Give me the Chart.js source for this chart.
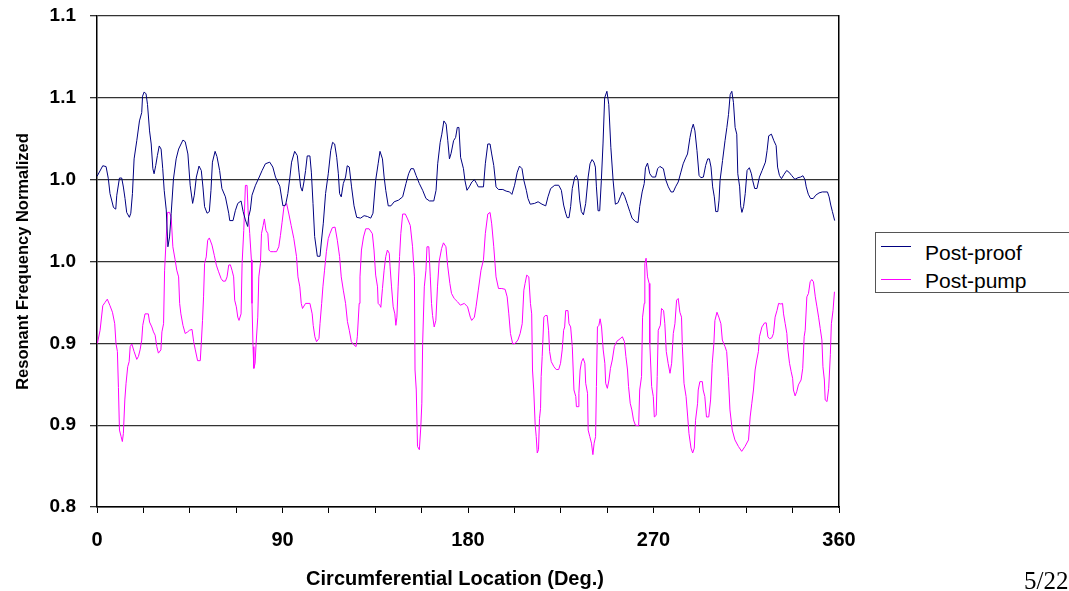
<!DOCTYPE html>
<html>
<head>
<meta charset="utf-8">
<script src="https://cdn.jsdelivr.net/npm/chart.js@4.4.1/dist/chart.umd.min.js"></script>
<style>
	body { margin: 0; background: #fff; }
	#wrap { position: relative; width: 1069px; height: 591px; overflow: hidden; }
	#chart { position: absolute; left: 0; top: 0; }
	#xTitle { position: absolute; left: 255px; width: 400px; top: 566px; text-align: center; line-height: 24px;
		font-family: "Liberation Sans", Arial, sans-serif; font-size: 20px; font-weight: bold; color: #000; white-space: nowrap; }
	#legend { position: absolute; left: 875px; top: 232px; width: 196px; height: 59px; border: 1px solid #555; background: #fff;
		font-family: "Liberation Sans", Arial, sans-serif; font-size: 21px; color: #000; }
	.legRow { position: absolute; left: 0; width: 100%; height: 24px; line-height: 24px; white-space: nowrap; }
	.legLine { position: absolute; left: 5px; width: 30px; height: 1px; }
	.legText { position: absolute; left: 49px; top: 0; }
	#page { position: absolute; left: 1024px; top: 568px; line-height: 25px; font-family: "Liberation Serif", "Times New Roman", serif; font-size: 25px; color: #000; }
</style>
</head>
<body>
<div id="wrap">
	<canvas id="chart" width="1069" height="591"></canvas>
	<div id="xTitle">Circumferential Location (Deg.)</div>
	<div id="legend"></div>
	<div id="page">5/22</div>
</div>
<script>
// -------------------- Data -------------------- //

const seriesNames = ["Post-proof", "Post-pump"];
const seriesColors = ["#000080", "#ff00ff"];

const yTickLabels = ["0.8", "0.9", "0.9", "1.0", "1.0", "1.1", "1.1"];	// values 0.80 .. 1.10 step 0.05
const xTickLabels = ["0", "90", "180", "270", "360"];

// Post-proof : location (deg) / normalized frequency
const proofDeg = [
	0, 2.8, 4.4, 5.5, 6.3, 8.0, 9.1, 9.6, 10.9, 12.0, 12.8, 13.6, 14.4, 15.7, 16.4, 17.2, 18.0, 19.3, 20.6, 21.7,
	22.1, 22.9, 23.8, 24.5, 25.5, 26.3, 27.1, 27.7, 28.5, 29.3, 30.2, 31.1, 31.9, 32.6, 33.6, 34.4, 35.2, 36.0, 37.1, 38.4,
	39.6, 41.7, 42.8, 44.1, 45.2, 46.4, 47.2, 48.2, 49.5, 50.6, 51.4, 52.2, 53.4, 54.5, 55.3, 56.0, 57.3, 58.2, 59.5, 60.6,
	62.3, 63.9, 64.4, 66.0, 67.1, 68.3, 69.9, 70.9, 72.0, 73.1, 73.6, 74.4, 75.2, 76.9, 78.5, 80.1, 81.7, 83.8, 85.3, 86.6,
	88.7, 90.2, 91.5, 92.6, 93.6, 94.4, 95.9, 97.2, 98.0, 98.8, 99.6, 100.4, 101.2, 102.0, 103.3, 104.0, 104.8, 105.6, 106.9, 108.2,
	108.8, 109.8, 110.9, 112.2, 113.4, 114.3, 115.3, 116.3, 117.1, 117.7, 118.5, 119.5, 120.6, 121.4, 122.4, 123.5, 124.7, 126.0, 127.9, 129.6,
	131.2, 132.8, 133.9, 135.2, 136.4, 137.3, 138.5, 139.3, 140.1, 141.3, 142.6, 144.2, 146.3, 148.3, 149.9, 151.2, 152.3, 153.6, 154.8, 156.4,
	158.0, 159.6, 161.3, 163.4, 164.5, 165.3, 166.5, 167.3, 168.3, 169.4, 170.2, 171.0, 171.8, 173.0, 174.0, 174.8, 175.6, 176.4, 177.8, 178.5,
	179.5, 180.6, 181.9, 183.1, 184.2, 185.0, 187.5, 188.4, 189.6, 190.7, 191.5, 192.5, 193.6, 194.8, 196.9, 198.5, 200.2, 201.3, 202.6, 203.9,
	205.0, 206.2, 207.1, 208.3, 209.1, 210.2, 212.3, 214.0, 215.9, 217.7, 218.8, 220.1, 222.1, 224.0, 225.3, 226.4, 227.4, 228.1, 229.0, 229.8,
	230.6, 231.8, 232.6, 233.4, 234.2, 235.0, 236.0, 237.1, 238.3, 239.2, 240.2, 241.1, 241.8, 242.3, 243.1, 243.9, 244.7, 245.5, 246.3, 247.4,
	248.3, 249.3, 250.4, 251.5, 252.8, 253.9, 254.9, 256.0, 257.2, 258.5, 259.6, 261.2, 262.5, 263.3, 264.5, 265.5, 266.1, 267.1, 268.2, 269.4,
	271.0, 272.0, 273.1, 274.8, 275.9, 277.2, 278.5, 279.6, 280.7, 282.0, 283.3, 284.4, 285.6, 286.5, 287.7, 288.5, 289.3, 290.1, 291.1, 292.1,
	293.0, 294.2, 295.3, 296.3, 297.1, 297.9, 298.7, 299.5, 300.2, 301.2, 301.8, 302.3, 303.5, 304.7, 305.6, 306.4, 307.2, 308.0, 308.8, 309.6,
	310.4, 310.9, 311.8, 312.3, 312.9, 313.7, 314.5, 315.4, 316.5, 317.5, 318.1, 319.1, 320.2, 321.4, 322.7, 324.3, 325.1, 325.9, 327.2, 328.4,
	329.5, 330.2, 331.1, 332.1, 333.3, 334.6, 335.7, 337.0, 338.6, 340.1, 341.4, 342.5, 343.5, 344.1, 345.1, 346.2, 347.5, 348.7, 350.3, 351.9,
	354.4, 355.2, 356.0, 356.8, 357.9
];
const proofVal = [
	1.002, 1.0085, 1.008, 1.0006, 0.9915, 0.983, 0.982, 0.9905, 1.001, 1.001, 0.9955, 0.9885, 0.980, 0.977, 0.9795, 0.9915, 1.0127, 1.0238, 1.0359, 1.041,
	1.051, 1.0536, 1.0524, 1.046, 1.0298, 1.0218, 1.0067, 1.0036, 1.0087, 1.0147, 1.0206, 1.0187, 1.0067, 0.9935, 0.9815, 0.959, 0.965, 0.9795, 1.0004, 1.0127,
	1.0187, 1.0242, 1.0232, 1.0157, 0.9966, 0.9855, 0.9905, 1.0016, 1.0083, 1.0056, 0.9955, 0.9835, 0.9795, 0.9805, 0.9935, 1.0107, 1.0173, 1.0141, 1.0056, 0.9946,
	0.9895, 0.9795, 0.975, 0.975, 0.981, 0.9855, 0.987, 0.9805, 0.9754, 0.9714, 0.9775, 0.9815, 0.9905, 0.9966, 1.001, 1.0056, 1.0097, 1.0107, 1.0077, 1.0016,
	0.996, 0.984, 0.9845, 0.9915, 1.0016, 1.0107, 1.0173, 1.0147, 1.0046, 0.9956, 0.993, 0.9986, 1.0056, 1.0145, 1.0145, 1.0046, 0.9855, 0.9653, 0.9532, 0.9532,
	0.9613, 0.9734, 0.9915, 1.0036, 1.0177, 1.0228, 1.0218, 1.0137, 1.0036, 0.9915, 0.9895, 0.9976, 1.0016, 1.0085, 1.0077, 0.9956, 0.984, 0.977, 0.9765, 0.978,
	0.9775, 0.9765, 0.9795, 0.9996, 1.0097, 1.0173, 1.0127, 1.0016, 0.9935, 0.984, 0.984, 0.9865, 0.9875, 0.9895, 0.9976, 1.0036, 1.0067, 1.0067, 1.0026, 0.9976,
	0.9935, 0.9885, 0.987, 0.987, 0.9935, 1.0097, 1.0228, 1.0278, 1.0359, 1.0339, 1.0238, 1.0127, 1.0161, 1.0238, 1.0258, 1.0319, 1.0319, 1.0137, 1.0067, 0.9996,
	0.9935, 0.9956, 0.9986, 1.0, 0.9976, 0.9956, 0.9956, 1.0097, 1.0218, 1.0218, 1.0157, 1.0087, 0.9956, 0.994, 0.994, 0.993, 0.9925, 0.991, 0.9966, 1.0046,
	1.0083, 1.0067, 0.9996, 0.9935, 0.9885, 0.985, 0.9855, 0.9865, 0.985, 0.984, 0.9895, 0.9946, 0.9966, 0.9966, 0.9935, 0.9845, 0.9795, 0.9768, 0.9768, 0.9835,
	0.9946, 1.0016, 1.0026, 0.9996, 0.9875, 0.9805, 0.9785, 0.9855, 1.0016, 1.0097, 1.0123, 1.0107, 1.0077, 0.9956, 0.981, 0.981, 0.9996, 1.0218, 1.05, 1.054,
	1.046, 1.0198, 0.9996, 0.985, 0.9859, 0.9895, 0.9925, 0.9899, 0.9855, 0.9805, 0.9765, 0.9744, 0.9738, 0.9835, 0.9925, 0.9976, 1.0073, 1.0101, 1.0036, 1.0016,
	1.0016, 1.0067, 1.0081, 1.0067, 1.0, 0.9956, 0.9925, 0.9925, 0.9956, 0.9986, 1.0046, 1.0097, 1.0133, 1.0157, 1.0258, 1.0308, 1.0339, 1.0298, 1.0177, 1.0026,
	1.0012, 1.0016, 1.0087, 1.0127, 1.0127, 1.0077, 0.9956, 0.9895, 0.9805, 0.9805, 0.9875, 0.9996, 1.0117, 1.0238, 1.0319, 1.0399, 1.052, 1.054, 1.047, 1.0319,
	1.0278, 1.0036, 0.9956, 0.984, 0.98, 0.9835, 0.9915, 1.0056, 1.0073, 1.0036, 0.9996, 0.9946, 0.9946, 1.0016, 1.0056, 1.0107, 1.0177, 1.0268, 1.0278, 1.0238,
	1.0208, 1.0077, 1.0026, 1.0006, 1.0032, 1.0056, 1.0046, 1.0026, 1.0002, 1.0012, 1.0016, 1.0024, 1.0, 0.9956, 0.9911, 0.9885, 0.9885, 0.9905, 0.9919, 0.9925,
	0.9925, 0.9895, 0.9845, 0.9805, 0.975
];

// Post-pump : location (deg) / normalized frequency
const pumpDeg = [
	0.2, 1.5, 2.8, 3.9, 5.0, 6.3, 7.5, 8.6, 9.2, 9.9, 10.4, 10.9, 11.7, 12.3, 12.8, 13.5, 14.1, 14.9, 15.6, 16.1,
	16.9, 18.0, 19.3, 20.1, 20.9, 21.7, 22.2, 23.3, 24.9, 25.5, 26.6, 27.4, 28.2, 29.0, 29.8, 31.0, 31.5, 32.3, 32.8, 33.6,
	34.2, 35.2, 36.0, 36.8, 37.9, 38.7, 39.6, 40.1, 40.7, 41.7, 42.8, 44.0, 44.9, 46.1, 46.9, 47.7, 48.8, 50.1, 50.6, 51.2,
	51.7, 52.2, 53.0, 53.7, 54.5, 55.8, 56.9, 57.9, 59.0, 60.2, 61.1, 62.3, 63.1, 63.9, 64.7, 65.5, 66.3, 66.8, 67.6, 68.3,
	68.9, 69.9, 70.4, 71.2, 72.0, 72.8, 73.3, 74.1, 74.9, 75.2, 75.7, 76.1, 76.7, 77.2, 78.0, 78.5, 79.3, 79.8, 80.6, 81.2,
	82.0, 82.9, 83.4, 84.2, 85.8, 87.1, 88.2, 89.0, 89.8, 90.7, 92.0, 93.1, 94.2, 95.5, 96.8, 97.5, 98.4, 99.1, 99.7, 101.2,
	103.3, 104.4, 104.9, 105.7, 106.5, 107.7, 108.2, 109.0, 109.6, 110.4, 111.3, 112.2, 113.0, 114.2, 115.5, 116.6, 117.7, 118.5, 119.5, 120.6,
	121.5, 122.4, 123.4, 124.7, 125.7, 126.3, 127.2, 127.6, 128.3, 129.3, 130.4, 132.0, 133.6, 134.4, 135.2, 136.1, 136.4, 137.2, 137.7, 138.5,
	139.3, 140.1, 140.9, 141.8, 142.2, 142.9, 143.7, 144.5, 145.0, 145.5, 146.1, 146.8, 147.4, 148.3, 149.6, 150.7, 152.0, 153.1, 154.0, 154.3,
	154.9, 155.5, 156.4, 157.1, 157.6, 158.0, 158.8, 159.6, 160.1, 161.0, 161.7, 162.3, 162.8, 163.6, 164.4, 165.2, 166.0, 167.2, 168.1, 169.3,
	170.1, 171.2, 172.0, 173.3, 174.9, 176.3, 178.2, 179.8, 181.1, 181.8, 183.1, 183.9, 185.0, 186.3, 187.5, 188.4, 189.6, 190.7, 191.5, 192.5,
	193.1, 193.6, 194.8, 196.4, 198.0, 199.0, 199.8, 200.6, 201.7, 202.9, 204.2, 205.3, 206.3, 207.1, 207.7, 208.5, 209.5, 210.3, 210.9, 211.3,
	211.9, 212.6, 213.1, 213.6, 214.2, 214.7, 215.2, 215.5, 216.0, 216.8, 217.5, 218.4, 219.1, 219.6, 220.4, 221.7, 222.8, 224.0, 224.9, 225.7,
	226.4, 226.9, 227.4, 228.5, 229.0, 229.8, 230.6, 231.4, 232.3, 232.6, 233.4, 233.8, 234.4, 235.1, 235.9, 236.7, 237.1, 238.0, 238.3, 239.1,
	239.9, 240.6, 241.2, 241.9, 242.3, 242.8, 243.5, 244.1, 244.8, 245.6, 246.4, 246.8, 247.6, 248.4, 249.1, 250.0, 251.0, 252.2, 253.8, 254.9,
	255.9, 256.6, 257.4, 257.9, 258.7, 259.5, 260.3, 261.2, 262.8, 263.3, 264.2, 264.7, 265.5, 265.8, 266.4, 267.1, 267.9, 268.2, 269.1, 269.9,
	270.4, 271.3, 271.8, 272.3, 273.3, 273.9, 274.9, 275.5, 276.2, 277.1, 278.0, 278.8, 279.6, 280.4, 281.2, 282.0, 282.8, 283.6, 284.0, 284.8,
	285.8, 286.6, 287.2, 288.2, 289.0, 289.8, 290.4, 291.4, 291.7, 292.5, 293.7, 294.1, 294.9, 295.7, 296.8, 297.7, 298.5, 299.3, 299.8, 300.8,
	301.7, 302.7, 303.4, 304.7, 305.5, 306.3, 307.1, 308.2, 309.5, 311.2, 312.8, 314.4, 316.1, 316.9, 317.7, 318.5, 319.3, 320.1, 320.9, 321.4,
	322.6, 323.9, 324.7, 325.5, 326.3, 327.4, 328.2, 329.0, 329.9, 330.7, 331.8, 332.6, 333.1, 333.9, 334.7, 335.2, 336.0, 336.8, 337.5, 337.9,
	338.7, 339.5, 340.3, 341.6, 342.4, 343.1, 343.6, 344.4, 345.2, 346.0, 346.8, 347.6, 348.5, 349.3, 350.1, 350.9, 351.7, 352.2, 352.9, 353.3,
	354.2, 355.0, 355.8, 356.3, 357.1, 357.8
];
const pumpVal = [
	0.900, 0.908, 0.923, 0.925, 0.927, 0.923, 0.919, 0.912, 0.900, 0.895, 0.873, 0.847, 0.843, 0.840, 0.845, 0.8654, 0.8756, 0.8857, 0.8888, 0.898,
	0.8996, 0.895, 0.8902, 0.892, 0.896, 0.902, 0.911, 0.918, 0.918, 0.913, 0.910, 0.907, 0.905, 0.898, 0.894, 0.896, 0.907, 0.912, 0.9447, 0.965,
	0.980, 0.980, 0.977, 0.959, 0.951, 0.9447, 0.9406, 0.9244, 0.918, 0.911, 0.906, 0.907, 0.908, 0.9085, 0.901, 0.896, 0.8894, 0.8894, 0.900, 0.914,
	0.9284, 0.9488, 0.9528, 0.963, 0.9644, 0.960, 0.9538, 0.9478, 0.9437, 0.9396, 0.938, 0.938, 0.9406, 0.9478, 0.948, 0.9447, 0.9406, 0.9264, 0.9223, 0.916,
	0.914, 0.918, 0.9488, 0.969, 0.9965, 0.9965, 0.981, 0.967, 0.951, 0.9244, 0.898, 0.8847, 0.8878, 0.900, 0.916, 0.9406, 0.9488, 0.967, 0.972, 0.976,
	0.969, 0.967, 0.957, 0.956, 0.956, 0.956, 0.959, 0.966, 0.974, 0.9833, 0.9854, 0.979, 0.972, 0.964, 0.953, 0.9406, 0.9345, 0.9244, 0.9213, 0.9244,
	0.9244, 0.918, 0.911, 0.904, 0.901, 0.903, 0.912, 0.9244, 0.9345, 0.9447, 0.956, 0.964, 0.967, 0.9707, 0.971, 0.963, 0.953, 0.9406, 0.9325, 0.9244,
	0.9133, 0.908, 0.901, 0.899, 0.898, 0.904, 0.9244, 0.9406, 0.957, 0.965, 0.970, 0.970, 0.967, 0.957, 0.9417, 0.9345, 0.9244, 0.9233, 0.922, 0.9335,
	0.9447, 0.953, 0.957, 0.955, 0.9467, 0.9345, 0.9223, 0.918, 0.911, 0.916, 0.9345, 0.953, 0.967, 0.979, 0.979, 0.976, 0.972, 0.959, 0.9406, 0.8837,
	0.8715, 0.837, 0.835, 0.849, 0.8634, 0.900, 0.9345, 0.9447, 0.959, 0.959, 0.9406, 0.9244, 0.917, 0.910, 0.914, 0.9345, 0.950, 0.958, 0.9614, 0.959,
	0.9478, 0.9366, 0.9305, 0.9274, 0.9254, 0.9233, 0.9244, 0.9223, 0.916, 0.914, 0.916, 0.9223, 0.9325, 0.9447, 0.951, 0.967, 0.979, 0.980, 0.973, 0.959,
	0.9488, 0.9406, 0.9335, 0.9335, 0.933, 0.9284, 0.918, 0.906, 0.8996, 0.900, 0.902, 0.906, 0.912, 0.9325, 0.9366, 0.9417, 0.9406, 0.9244, 0.918, 0.8837,
	0.8715, 0.850, 0.843, 0.833, 0.835, 0.8542, 0.8603, 0.8797, 0.892, 0.916, 0.917, 0.917, 0.908, 0.895, 0.8888, 0.8857, 0.884, 0.884, 0.8878, 0.896,
	0.908, 0.910, 0.920, 0.920, 0.912, 0.910, 0.898, 0.8715, 0.8675, 0.8613, 0.8613, 0.8695, 0.8837, 0.8888, 0.8908, 0.8878, 0.8756, 0.8695, 0.847, 0.843,
	0.839, 0.832, 0.839, 0.843, 0.8736, 0.910, 0.911, 0.915, 0.910, 0.896, 0.8878, 0.8756, 0.8725, 0.8776, 0.8847, 0.8898, 0.898, 0.9012, 0.9028, 0.904,
	0.901, 0.892, 0.8837, 0.8736, 0.8634, 0.8593, 0.8532, 0.850, 0.8496, 0.8715, 0.8797, 0.916, 0.9244, 0.9488, 0.952, 0.9406, 0.9366, 0.900, 0.8736, 0.8675,
	0.855, 0.856, 0.8797, 0.908, 0.911, 0.9213, 0.920, 0.912, 0.895, 0.8878, 0.8817, 0.8878, 0.906, 0.912, 0.9264, 0.9274, 0.919, 0.916, 0.898, 0.8756,
	0.8675, 0.855, 0.845, 0.836, 0.833, 0.836, 0.853, 0.8634, 0.8715, 0.8766, 0.8766, 0.8715, 0.8675, 0.855, 0.855, 0.8654, 0.8878, 0.900, 0.914, 0.919,
	0.916, 0.912, 0.902, 0.898, 0.895, 0.8797, 0.8593, 0.847, 0.841, 0.837, 0.834, 0.837, 0.841, 0.855, 0.8634, 0.8715, 0.8837, 0.8898, 0.895, 0.904,
	0.910, 0.9125, 0.9125, 0.904, 0.9028, 0.9034, 0.906, 0.916, 0.920, 0.9244, 0.924, 0.9244, 0.918, 0.912, 0.906, 0.896, 0.8878, 0.8827, 0.8786, 0.8715,
	0.8679, 0.8705, 0.8746, 0.8776, 0.8847, 0.904, 0.908, 0.9284, 0.9305, 0.9376, 0.939, 0.9376, 0.9284, 0.9223, 0.916, 0.909, 0.902, 0.8857, 0.8776, 0.8654,
	0.8644, 0.8725, 0.8931, 0.912, 0.920, 0.9315
];

// -------------------- Chart -------------------- //

const fontFamily = '"Liberation Sans", Arial, sans-serif';

function toPoints(degs, vals) { return degs.map((d, i) => ({ x: d, y: vals[i] })); }

const chartCanvas = document.getElementById("chart");

const chart = new Chart(chartCanvas, {
	type: "line",
	data: {
		datasets: [
			{ label: seriesNames[0], data: toPoints(proofDeg, proofVal), borderColor: seriesColors[0], borderWidth: 1, pointRadius: 0, tension: 0 },
			{ label: seriesNames[1], data: toPoints(pumpDeg, pumpVal), borderColor: seriesColors[1], borderWidth: 1, pointRadius: 0, tension: 0 },
		]
	},
	options: {
		responsive: false,
		animation: false,
		devicePixelRatio: 1,
		layout: { padding: { left: 0, right: 230, top: 16, bottom: 0 } },
		plugins: { legend: { display: false }, tooltip: { enabled: false } },
		scales: {
			x: {
				type: "linear",
				min: 0, max: 360,
				afterFit: (scale) => { scale.height = 84; scale.paddingLeft = 0; scale.paddingRight = 0; },
				ticks: {
					stepSize: 22.5,
					autoSkip: false,
					maxRotation: 0,
					padding: 15,
					color: "#000",
					font: { family: fontFamily, size: 20, weight: "bold" },
					callback: (value) => (value % 90 === 0 ? xTickLabels[value / 90] : "")
				},
				grid: { drawOnChartArea: false, drawTicks: true, tickLength: 6, color: "#000", lineWidth: 1 },
				border: { color: "#000", width: 1.5 }
			},
			y: {
				min: 0.8, max: 1.1,
				afterFit: (scale) => { scale.width = 97; scale.paddingTop = 0; scale.paddingBottom = 0; },
				ticks: {
					stepSize: 0.05,
					padding: 14,
					color: "#000",
					font: { family: fontFamily, size: 19, weight: "bold" },
					callback: (value, index) => yTickLabels[index]
				},
				grid: { color: "#333", lineWidth: 1.3, tickLength: 7, drawTicks: true },
				border: { color: "#000", width: 1.5 },
				title: {
					display: true,
					text: "Resonant Frequency Normalized",
					color: "#000",
					font: { family: fontFamily, size: 16.5, weight: "bold" },
					padding: { top: 14, bottom: 0 }
				}
			},
			// right hand frame of the plot area
			yRight: {
				position: "right",
				min: 0.8, max: 1.1,
				afterFit: (scale) => { scale.width = 0; scale.paddingTop = 0; scale.paddingBottom = 0; },
				ticks: { display: false },
				grid: { drawOnChartArea: false, drawTicks: false },
				border: { color: "#000", width: 1.5 }
			}
		}
	}
});

// -------------------- Legend (html, built from the datasets) -------------------- //

const legendBox = document.getElementById("legend");
const legendRowTops = [8, 36];
const legendLineTops = [5, 10];
chart.data.datasets.forEach((ds, i) => {
	const row = document.createElement("div");
	row.className = "legRow";
	row.style.top = legendRowTops[i] + "px";
	row.innerHTML = '<span class="legLine" style="top:' + legendLineTops[i] + 'px;background:' + ds.borderColor + '"></span>'
		+ '<span class="legText">' + ds.label + '</span>';
	legendBox.appendChild(row);
});
</script>
</body>
</html>
